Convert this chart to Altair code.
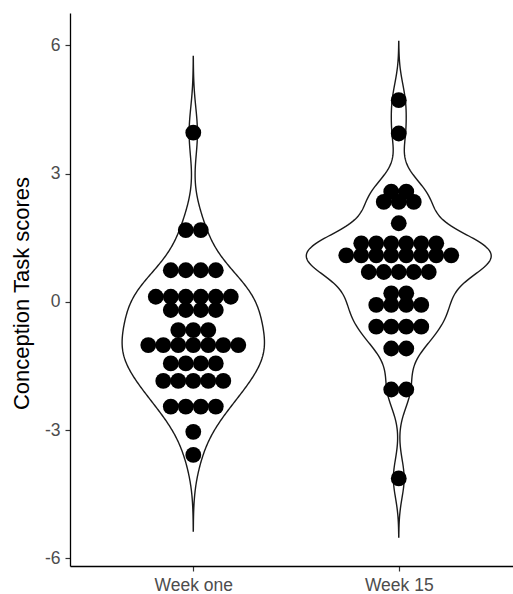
import json
import altair as alt
import numpy as np
import pandas as pd

categories = ["Week one", "Week 15"]

week_one = [3.96, 1.68, 1.68,
            0.74, 0.74, 0.74, 0.74,
            0.12, 0.12, 0.12, 0.12, 0.12, 0.12,
            -0.19, -0.19, -0.19, -0.19,
            -0.66, -0.66, -0.66,
            -1.01, -1.01, -1.01, -1.01, -1.01, -1.01, -1.01,
            -1.44, -1.44, -1.44, -1.44,
            -1.85, -1.85, -1.85, -1.85, -1.85,
            -2.45, -2.45, -2.45, -2.45,
            -3.04, -3.58]

week_15 = [4.72, 3.94, 2.58, 2.58,
           2.34, 2.34, 2.34,
           1.84,
           1.37, 1.37, 1.37, 1.37, 1.37, 1.37,
           1.09, 1.09, 1.09, 1.09, 1.09, 1.09, 1.09, 1.09,
           0.70, 0.70, 0.70, 0.70, 0.70,
           0.20, 0.20,
           -0.07, -0.07, -0.07, -0.07,
           -0.58, -0.58, -0.58, -0.58,
           -1.09, -1.09,
           -2.05, -2.05,
           -4.13]

y_ticks = [-6, -3, 0, 3, 6]

series = {categories[0]: week_one, categories[1]: week_15}

df = pd.DataFrame(
    [{"group": g, "score": s} for g in categories for s in series[g]]
)


def nrd0(v):
    v = np.asarray(v, dtype=float)
    sd = v.std(ddof=1)
    q75, q25 = np.percentile(v, [75, 25])
    lo = min(sd, (q75 - q25) / 1.34)
    return 0.9 * lo * len(v) ** -0.2


def peak_density(v, bw):
    v = np.asarray(v, dtype=float)
    g = np.linspace(v.min() - 3 * bw, v.max() + 3 * bw, 600)
    d = np.exp(-0.5 * ((g[:, None] - v[None, :]) / bw) ** 2).sum(1)
    d /= len(v) * bw * np.sqrt(2 * np.pi)
    return d.max()


bws = [nrd0(series[c]) for c in categories]
max_d = max(peak_density(series[c], b) for c, b in zip(categories, bws))
half_width = 0.45
K = half_width / max_d

dot_step = 0.073

FONT = "Liberation Sans"
x_scale = alt.Scale(domain=[0.4, 2.556], nice=False, zero=False)
y_scale = alt.Scale(domain=[-6.18, 6.76], nice=False, zero=False)

label_expr = json.dumps(categories) + "[datum.value - 1]"

x_axis = alt.Axis(values=[1, 2], labelExpr=label_expr, title=None, grid=False,
                  tickSize=5, tickWidth=1.2, tickColor="#333333",
                  domainColor="black", domainWidth=1.3,
                  labelColor="#4d4d4d", labelFontSize=17.5, labelFont=FONT,
                  labelPadding=5, labelFlush=False, labelBaseline="top")
y_axis = alt.Axis(values=y_ticks, labelExpr="'' + datum.value",
                  title="Conception Task scores", grid=False,
                  tickSize=5, tickWidth=1.2, tickColor="#333333",
                  domainColor="black", domainWidth=1.3,
                  labelColor="#4d4d4d", labelFontSize=17.5, labelFont=FONT,
                  labelPadding=5, labelFlush=False,
                  titleFont=FONT, titleFontSize=22, titleFontWeight="normal",
                  titleColor="black", titleAngle=270, titleBaseline="bottom",
                  titleX=-37, titleY=280)

base = alt.Chart(df)

layers = []
for i, cat in enumerate(categories):
    v = series[cat]
    bw = bws[i]
    violin = (
        base.transform_filter(alt.datum.group == cat)
        .transform_density("score", as_=["score", "density"], bandwidth=bw,
                           extent=[min(v) - 3 * bw, max(v) + 3 * bw], steps=400)
        .transform_calculate(
            lo=f"{i + 1} - datum.density * {K}",
            hi=f"{i + 1} + datum.density * {K}",
        )
        .mark_area(orient="horizontal", stroke="#1a1a1a", strokeWidth=1.4,
                   fillOpacity=0, fill="white")
        .encode(
            y=alt.Y("score:Q", scale=y_scale, axis=y_axis),
            x=alt.X("lo:Q", scale=x_scale, axis=x_axis),
            x2="hi:Q",
        )
    )
    layers.append(violin)

dots = (
    base.transform_window(rank="row_number()", groupby=["group", "score"])
    .transform_joinaggregate(n="count()", groupby=["group", "score"])
    .transform_calculate(
        pos=f"indexof({json.dumps(categories)}, datum.group) + 1",
    )
    .transform_calculate(
        xd=f"datum.pos + (datum.rank - (datum.n + 1) / 2) * {dot_step}"
    )
    .mark_circle(size=250, color="black", opacity=1)
    .encode(
        x=alt.X("xd:Q", scale=x_scale, axis=x_axis),
        y=alt.Y("score:Q", scale=y_scale, axis=y_axis),
    )
)
layers.append(dots)

chart = (
    alt.layer(*layers)
    .properties(width=443, height=553,
                padding={"left": 70, "top": 13, "right": 0, "bottom": 28},
                autosize=alt.AutoSizeParams(type="none"),
                background="white")
    .configure_view(stroke=None)
)

chart.save("out.html", embed_options={"renderer": "svg", "actions": False})
